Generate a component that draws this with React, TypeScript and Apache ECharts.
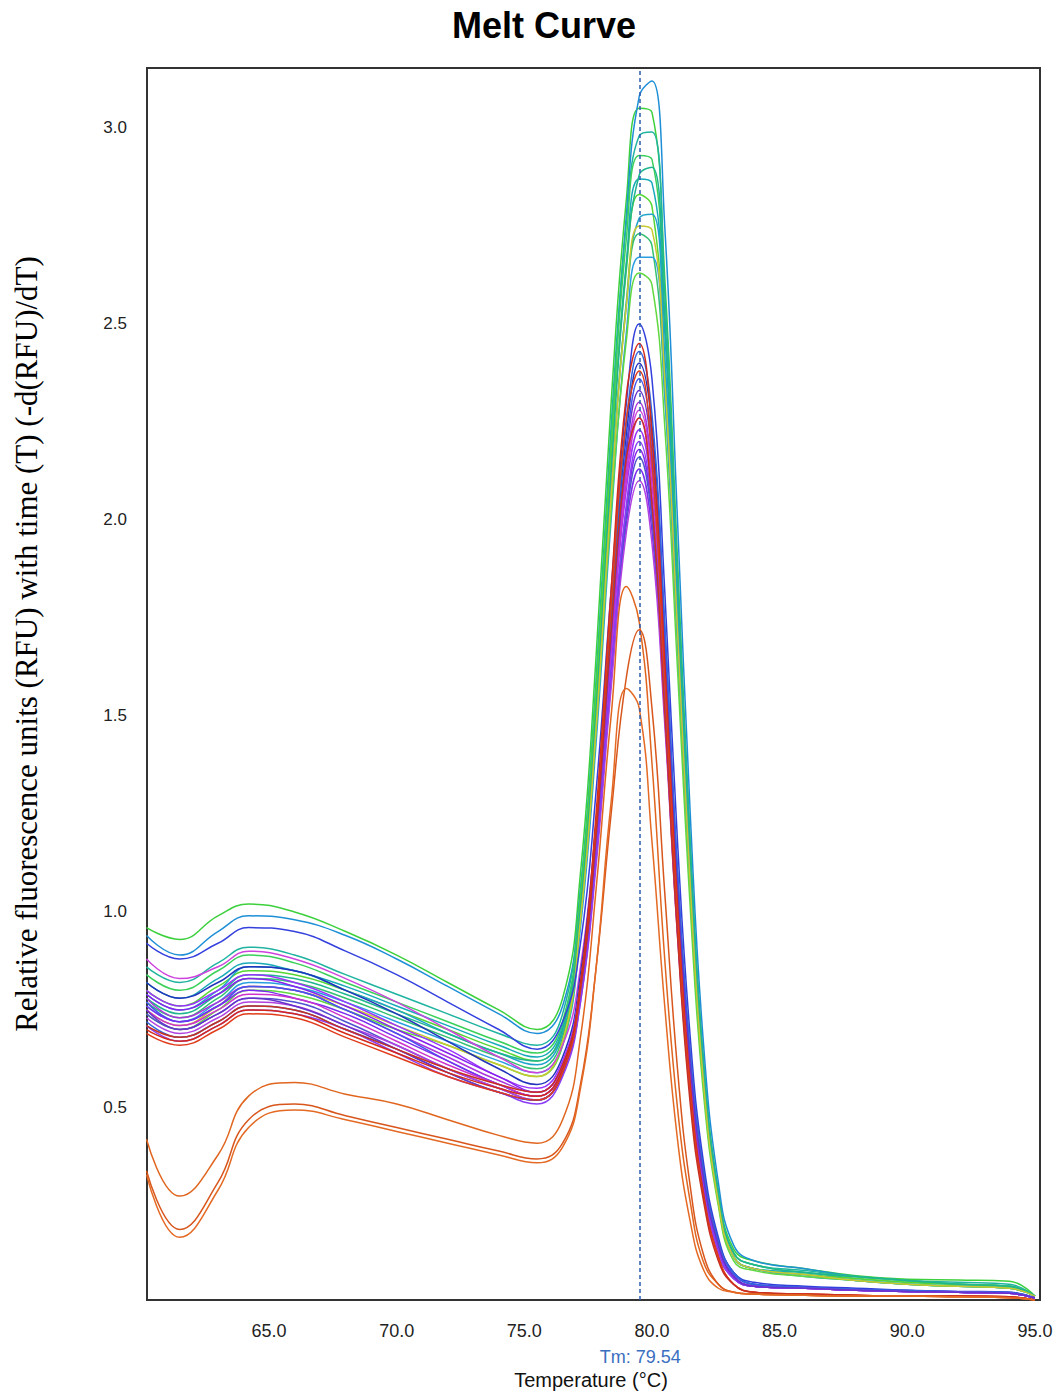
import React, { useEffect, useRef } from "react";
import * as echarts from "echarts";

const TITLE = "Melt Curve";
const Y_TITLE = "Relative fluorescence units (RFU) with time (T) (-d(RFU)/dT)";
const X_TITLE = "Temperature (°C)";
const TM = 79.54;

const X_TICKS = [65, 70, 75, 80, 85, 90, 95];
const Y_TICKS = [0.5, 1.0, 1.5, 2.0, 2.5, 3.0];

const TEMPS = [60.2, 61.5, 63.0, 64.2, 66.0, 68.0, 70.0, 72.0, 74.0, 75.5, 76.5, 77.2, 77.8, 78.4, 79.0, 79.5, 80.0, 80.5, 81.0, 81.5, 82.0, 82.6, 83.2, 84.0, 86.0, 88.0, 90.0, 92.0, 94.0, 95.0];

// green / teal wells
const G1 = [0.96,0.93,0.99,1.02,1.00,0.95,0.89,0.82,0.75,0.70, 0.78,1.10,1.64,2.30,2.82,3.05,3.04,2.62,1.90,1.18,0.64,0.29,0.14,0.11,0.09,0.072,0.063,0.061,0.058,0.02];
const G2 = [0.94,0.89,0.95,0.99,0.98,0.94,0.88,0.81,0.74,0.69, 0.76,1.05,1.55,2.20,2.78,3.08,3.12,2.75,2.00,1.25,0.68,0.31,0.15,0.11,0.09,0.07,0.06,0.05,0.045,0.02];
const G3 = [0.86,0.82,0.87,0.91,0.89,0.84,0.79,0.74,0.69,0.66, 0.74,1.06,1.58,2.24,2.76,2.98,2.99,2.58,1.86,1.16,0.62,0.28,0.13,0.10,0.085,0.07,0.06,0.055,0.05,0.02];
const G4 = [0.84,0.80,0.85,0.89,0.87,0.82,0.77,0.72,0.67,0.64, 0.72,1.04,1.56,2.20,2.72,2.93,2.92,2.52,1.83,1.13,0.61,0.27,0.13,0.10,0.08,0.07,0.06,0.05,0.045,0.02];
const G5 = [0.82,0.78,0.83,0.87,0.85,0.81,0.76,0.71,0.66,0.63, 0.71,1.02,1.52,2.15,2.66,2.87,2.86,2.48,1.80,1.12,0.60,0.27,0.12,0.09,0.08,0.065,0.055,0.05,0.045,0.02];
const G6 = [0.80,0.76,0.81,0.85,0.84,0.80,0.75,0.70,0.65,0.62, 0.70,1.03,1.54,2.16,2.64,2.83,2.80,2.40,1.74,1.08,0.58,0.26,0.12,0.09,0.075,0.065,0.055,0.05,0.045,0.02];
const G7 = [0.79,0.75,0.80,0.86,0.85,0.80,0.75,0.69,0.64,0.61, 0.69,0.98,1.46,2.06,2.56,2.77,2.78,2.42,1.78,1.12,0.61,0.27,0.12,0.09,0.075,0.06,0.05,0.045,0.04,0.02];
const G8 = [0.77,0.73,0.78,0.83,0.82,0.78,0.73,0.68,0.63,0.60, 0.68,1.00,1.48,2.08,2.55,2.73,2.70,2.32,1.68,1.05,0.57,0.26,0.12,0.09,0.075,0.06,0.05,0.045,0.04,0.02];
const G9 = [0.76,0.72,0.77,0.82,0.81,0.77,0.72,0.67,0.62,0.59, 0.66,0.96,1.42,2.00,2.48,2.67,2.67,2.32,1.70,1.07,0.58,0.26,0.12,0.09,0.07,0.06,0.05,0.045,0.04,0.02];
const G10 = [0.74,0.70,0.75,0.80,0.79,0.75,0.70,0.66,0.61,0.58, 0.66,0.98,1.45,2.02,2.46,2.63,2.60,2.24,1.62,1.01,0.55,0.25,0.11,0.085,0.07,0.06,0.05,0.045,0.04,0.02];
const G11 = [0.78,0.74,0.79,0.84,0.83,0.79,0.74,0.69,0.64,0.62, 0.70,1.01,1.50,2.12,2.65,2.88,2.90,2.52,1.84,1.15,0.62,0.28,0.13,0.10,0.08,0.07,0.06,0.05,0.045,0.02];
const G12 = [0.75,0.71,0.76,0.81,0.80,0.76,0.71,0.66,0.61,0.58, 0.67,0.98,1.46,2.06,2.55,2.75,2.74,2.36,1.72,1.07,0.58,0.26,0.12,0.09,0.075,0.06,0.05,0.045,0.04,0.02];

// blue / purple / magenta wells
const B1 = [0.92,0.88,0.92,0.96,0.95,0.90,0.84,0.77,0.70,0.65, 0.72,0.92,1.30,1.82,2.30,2.50,2.36,1.82,1.18,0.68,0.37,0.17,0.08,0.055,0.045,0.04,0.035,0.032,0.03,0.015];
const B2 = [0.88,0.83,0.86,0.90,0.88,0.83,0.77,0.70,0.63,0.59, 0.66,0.86,1.22,1.70,2.12,2.28,2.12,1.62,1.04,0.60,0.33,0.15,0.07,0.045,0.04,0.035,0.033,0.03,0.028,0.015];
const B3 = [0.82,0.78,0.82,0.86,0.85,0.80,0.74,0.67,0.60,0.56, 0.63,0.84,1.22,1.75,2.22,2.40,2.24,1.72,1.10,0.63,0.35,0.16,0.08,0.05,0.042,0.037,0.034,0.031,0.029,0.015];
const B4 = [0.80,0.76,0.80,0.84,0.82,0.77,0.71,0.65,0.58,0.55, 0.62,0.82,1.18,1.66,2.08,2.23,2.06,1.57,1.00,0.57,0.31,0.14,0.07,0.045,0.04,0.035,0.032,0.03,0.027,0.015];
const B5 = [0.79,0.75,0.79,0.83,0.81,0.76,0.70,0.64,0.58,0.54, 0.61,0.80,1.15,1.62,2.03,2.18,2.02,1.54,0.98,0.56,0.31,0.14,0.07,0.045,0.04,0.035,0.032,0.03,0.027,0.015];
const B6 = [0.78,0.73,0.77,0.81,0.80,0.75,0.69,0.63,0.57,0.54, 0.61,0.82,1.19,1.70,2.14,2.30,2.13,1.63,1.04,0.60,0.33,0.15,0.07,0.045,0.04,0.035,0.032,0.03,0.027,0.015];
const B7 = [0.77,0.72,0.76,0.81,0.80,0.75,0.69,0.62,0.56,0.53, 0.60,0.81,1.19,1.72,2.19,2.36,2.20,1.69,1.08,0.62,0.34,0.15,0.075,0.05,0.042,0.037,0.034,0.031,0.029,0.015];
const B8 = [0.76,0.72,0.76,0.80,0.78,0.74,0.68,0.62,0.56,0.53, 0.60,0.79,1.13,1.59,1.99,2.13,1.97,1.50,0.95,0.54,0.30,0.13,0.065,0.045,0.04,0.035,0.032,0.03,0.027,0.015];
const B9 = [0.75,0.71,0.75,0.79,0.78,0.73,0.67,0.61,0.56,0.53, 0.60,0.80,1.17,1.67,2.10,2.26,2.09,1.60,1.02,0.58,0.32,0.14,0.07,0.045,0.04,0.035,0.032,0.03,0.027,0.015];
const B10 = [0.74,0.70,0.74,0.78,0.77,0.72,0.66,0.60,0.55,0.52, 0.59,0.78,1.13,1.60,2.01,2.16,2.00,1.52,0.97,0.55,0.30,0.13,0.065,0.045,0.04,0.035,0.032,0.03,0.027,0.015];
const B11 = [0.73,0.69,0.73,0.77,0.76,0.71,0.66,0.60,0.55,0.52, 0.59,0.77,1.11,1.57,1.97,2.10,1.94,1.48,0.94,0.53,0.29,0.13,0.065,0.045,0.04,0.035,0.032,0.03,0.027,0.015];
const B12 = [0.72,0.68,0.72,0.76,0.75,0.70,0.65,0.59,0.54,0.52, 0.59,0.81,1.20,1.75,2.25,2.43,2.27,1.74,1.11,0.64,0.35,0.16,0.08,0.05,0.042,0.037,0.034,0.031,0.029,0.015];
const B13 = [0.71,0.67,0.71,0.75,0.74,0.70,0.64,0.58,0.54,0.51, 0.58,0.77,1.13,1.61,2.04,2.20,2.04,1.55,0.99,0.56,0.31,0.14,0.065,0.045,0.04,0.035,0.032,0.03,0.027,0.015];
const B14 = [0.75,0.70,0.74,0.78,0.76,0.71,0.65,0.59,0.54,0.52, 0.59,0.80,1.18,1.70,2.17,2.33,2.17,1.66,1.06,0.61,0.33,0.15,0.07,0.045,0.04,0.035,0.032,0.03,0.027,0.015];

// red wells
const R1 = [0.70,0.67,0.71,0.75,0.74,0.69,0.64,0.59,0.55,0.53, 0.60,0.82,1.24,1.82,2.32,2.45,2.22,1.64,1.02,0.56,0.29,0.12,0.05,0.03,0.025,0.022,0.02,0.02,0.018,0.01];
const R2 = [0.69,0.66,0.70,0.74,0.73,0.68,0.63,0.58,0.54,0.52, 0.59,0.80,1.21,1.78,2.26,2.38,2.15,1.59,0.99,0.54,0.28,0.12,0.05,0.03,0.025,0.022,0.02,0.02,0.018,0.01];
const R3 = [0.71,0.68,0.72,0.76,0.75,0.70,0.65,0.60,0.56,0.54, 0.61,0.81,1.19,1.72,2.16,2.26,2.04,1.51,0.94,0.51,0.27,0.11,0.05,0.03,0.025,0.022,0.02,0.02,0.018,0.01];

// low orange wells
const O1 = [0.42,0.275,0.38,0.53,0.565,0.535,0.51,0.47,0.43,0.41, 0.47,0.68,1.05,1.50,1.83,1.74,1.38,0.88,0.50,0.26,0.11,0.05,0.03,0.025,0.022,0.02,0.02,0.018,0.016,0.01];
const O2 = [0.34,0.19,0.31,0.47,0.51,0.48,0.45,0.42,0.39,0.37, 0.41,0.56,0.85,1.25,1.60,1.72,1.52,1.05,0.60,0.30,0.13,0.05,0.03,0.025,0.022,0.02,0.02,0.018,0.016,0.01];
const O3 = [0.33,0.17,0.29,0.45,0.495,0.47,0.44,0.41,0.38,0.36, 0.40,0.55,0.85,1.28,1.57,1.52,1.18,0.76,0.42,0.21,0.09,0.04,0.03,0.025,0.022,0.02,0.02,0.018,0.016,0.01];

const CURVES = [
  G1, G2, G3, G4, G5, G6, G7, G8, G9, G10, G11, G12,
  B1, B2, B3, B4, B5, B6, B7, B8, B9, B10, B11, B12, B13, B14,
  R1, R2, R3,
  O1, O2, O3,
];
const COLORS = [
  "#3cd03c", "#1e8fd6", "#1fb3a0", "#3ad05a", "#18aab8", "#55d633", "#20a4cc", "#33c070", "#2a9fe0", "#60d840", "#1fb58f", "#c8c830",
  "#3340dd", "#cc44dd", "#2233bb", "#9933ff", "#8822ee", "#aa33dd", "#4455ee", "#7a2bf0", "#cc33cc", "#5050d0", "#b040e0", "#3366dd", "#8a3cf5", "#6633cc",
  "#d42a1a", "#e03c1c", "#c83020",
  "#e0651e", "#d8561c", "#e46a24",
];

const SANS = '"Liberation Sans", Arial, Helvetica, sans-serif';
const SERIF = '"Liberation Serif", "Times New Roman", serif';

export default function App() {
  const ref = useRef<HTMLDivElement>(null);
  useEffect(() => {
    if (!ref.current) return;
    const chart = echarts.init(ref.current, null, { renderer: "svg" });
    const series: any[] = CURVES.map((vals, i) => ({
      type: "line",
      data: TEMPS.map((t, j) => [t, vals[j]]),
      showSymbol: false,
      smooth: 0.45,
      lineStyle: { color: COLORS[i], width: 1.5 },
      itemStyle: { color: COLORS[i] },
      silent: true,
      z: 2,
    }));
    series.push({
      type: "line",
      data: [],
      silent: true,
      z: 5,
      markLine: {
        silent: true,
        symbol: ["none", "none"],
        lineStyle: { color: "#2a5cb0", type: [4, 3], width: 1.5 },
        label: {
          show: true,
          position: "start",
          distance: 48,
          formatter: `Tm: ${TM}`,
          color: "#3a6ec0",
          fontSize: 18,
          fontFamily: SANS,
        },
        data: [{ xAxis: TM }],
      },
    });
    chart.setOption({
      animation: false,
      backgroundColor: "#ffffff",
      grid: {
        left: 147,
        top: 68,
        width: 893,
        height: 1232,
        show: true,
        borderColor: "#333",
        borderWidth: 2,
        backgroundColor: "transparent",
        containLabel: false,
        outerBoundsMode: "none",
      },
      xAxis: {
        type: "value",
        min: 60.22,
        max: 95.2,
        axisLine: { show: false },
        axisTick: { show: false },
        splitLine: { show: false },
        axisLabel: {
          customValues: X_TICKS,
          formatter: (v: number) => v.toFixed(1),
          margin: 22,
          fontSize: 18,
          color: "#222",
          fontFamily: SANS,
        },
      },
      yAxis: {
        type: "value",
        min: 0.01,
        max: 3.153,
        axisLine: { show: false },
        axisTick: { show: false },
        splitLine: { show: false },
        axisLabel: {
          customValues: Y_TICKS,
          formatter: (v: number) => v.toFixed(1),
          margin: 20,
          fontSize: 17,
          color: "#222",
          fontFamily: SANS,
        },
      },
      graphic: [
        {
          type: "text",
          x: 544,
          y: 25,
          style: {
            text: TITLE,
            font: `bold 36px ${SANS}`,
            fill: "#000",
            align: "center",
            verticalAlign: "middle",
          },
        },
        {
          type: "text",
          x: 26,
          y: 644,
          rotation: Math.PI / 2,
          style: {
            text: Y_TITLE,
            font: `31px ${SERIF}`,
            fill: "#000",
            align: "center",
            verticalAlign: "middle",
          },
        },
        {
          type: "text",
          x: 591,
          y: 1380,
          style: {
            text: X_TITLE,
            font: `20px ${SANS}`,
            fill: "#111",
            align: "center",
            verticalAlign: "middle",
          },
        },
      ],
      series,
    });
    return () => chart.dispose();
  }, []);
  return (
    <div
      ref={ref}
      style={{ position: "absolute", left: 0, top: 0, width: 1058, height: 1395 }}
    />
  );
}
